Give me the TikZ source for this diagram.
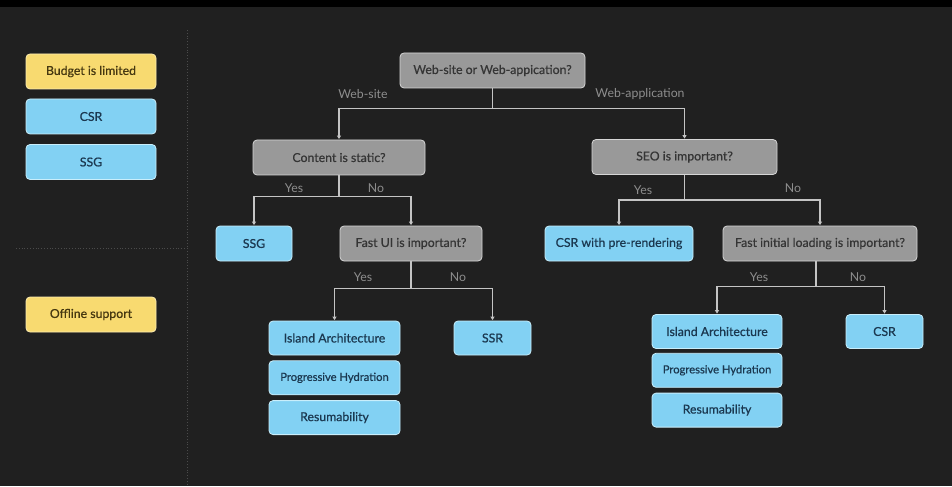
\documentclass[tikz,border=0pt]{standalone}
\usepackage{fontspec}
\setmainfont{Lato}
\newfontfamily\boxfont[FakeBold=0.6]{Lato}
\usetikzlibrary{arrows.meta,positioning}

\definecolor{bgdark}{HTML}{202020}
\definecolor{qfill}{HTML}{999999}
\definecolor{qdraw}{HTML}{D6D6D6}
\definecolor{qtext}{HTML}{353535}
\definecolor{afill}{HTML}{82D1F3}
\definecolor{adraw}{HTML}{C9EEFB}
\definecolor{atext}{HTML}{1B3850}
\definecolor{yfill}{HTML}{F8DA70}
\definecolor{ydraw}{HTML}{FCEBB0}
\definecolor{ytext}{HTML}{463810}
\definecolor{wire}{HTML}{C4C4C4}
\definecolor{lbl}{HTML}{8E8E8E}

\begin{document}
\begin{tikzpicture}[
    x = 1pt, y = -1pt, % one unit per pixel, y downwards
    > = {Triangle[width=4pt,length=3.5pt]}, % arrow head style
    shorten > = 0.5pt, % arrow head just touches the box
    node distance = 5pt, % gap between stacked answers
    line width = 1.3pt
    ]

    \tikzset{
    box/.style = {rounded corners = 4pt, line width = 0.8pt, inner sep = 0pt,
        minimum height = 35pt, font = \boxfont\fontsize{12.3}{14}\selectfont},
    question/.style = {box, fill = qfill, draw = qdraw, text = qtext},
    answer/.style = {box, fill = afill, draw = adraw, text = atext},
    note/.style = {box, fill = yfill, draw = ydraw, text = ytext},
    stacked/.style = {answer, minimum height = 34pt},
    small/.style = {font = \boxfont\fontsize{11.2}{13}\selectfont},
    branch/.style = {text = lbl, font = \fontsize{12.3}{14}\selectfont},
    wire/.style = {draw = wire, ->},
    sep/.style = {draw = gray!45!bgdark, line width = 0.8pt, dotted}
    }

    % background
    \fill[bgdark] (0,0) rectangle (952,486);
    \fill[black] (0,0) rectangle (952,7);
    \draw[sep] (187,30) -- (187,486);
    \draw[sep] (16,248) -- (187,248);

    % left panel
    \node[note, minimum width = 130pt] (budget) at (91,71.5) {Budget is limited};
    \node[answer, minimum width = 130pt] (lcsr) at (91,116.5) {CSR};
    \node[answer, minimum width = 130pt] (lssg) at (91,162) {SSG};
    \node[note, minimum width = 130pt] (offline) at (91,314.5) {Offline support};

    % questions
    \node[question, minimum width = 185pt] (root) at (492.5,70.5) {Web-site or Web-appication?};
    \node[question, minimum width = 172pt] (content) at (339,157.5) {Content is static?};
    \node[question, minimum width = 185pt] (seo) at (684.5,157) {SEO is important?};
    \node[question, minimum width = 142pt] (fastui) at (411,243.5) {Fast UI is important?};
    \node[question, minimum width = 194pt] (fastload) at (820,243.5) {Fast initial loading is important?};

    % answers
    \node[answer, minimum width = 76pt] (ssg) at (254,243.5) {SSG};
    \node[answer, minimum width = 148pt] (csrpre) at (619,243.5) {CSR with pre-rendering};
    \node[stacked, minimum width = 131pt] (island1) at (334.5,338) {Island Architecture};
    \node[stacked, small, minimum width = 131pt] (hydr1) [below=of island1] {Progressive Hydration};
    \node[stacked, minimum width = 131pt] (resum1) [below=of hydr1] {Resumability};
    \node[stacked, minimum width = 77pt] (ssr) at (492.5,338) {SSR};
    \node[stacked, minimum width = 130pt] (island2) at (717,331.5) {Island Architecture};
    \node[stacked, small, minimum width = 130pt] (hydr2) [below=4pt of island2] {Progressive Hydration};
    \node[stacked, minimum width = 130pt] (resum2) [below=of hydr2] {Resumability};
    \node[stacked, minimum width = 77pt] (csr) at (884.5,331.5) {CSR};

    % connectors
    \path[wire] (root.south) -- ++(0,20) -| (content.north);
    \path[wire] (root.south) -- ++(0,20) -| (seo.north);
    \path[wire] (content.south) -- ++(0,21) -| (ssg.north);
    \path[wire] (content.south) -- ++(0,21) -| (fastui.north);
    \path[wire] (seo.south) -- ++(0,25) -| (csrpre.north);
    \path[wire] (seo.south) -- ++(0,25) -| (fastload.north);
    \path[wire] (fastui.south) -- ++(0,27) -| (island1.north);
    \path[wire] (fastui.south) -- ++(0,27) -| (ssr.north);
    \path[wire] ([xshift=-4pt]fastload.south) -- ++(0,25) -| (island2.north);
    \path[wire] ([xshift=-4pt]fastload.south) -- ++(0,25) -| (csr.north);

    % branch labels
    \node[branch] (lsite) at (363,94) {Web-site};
    \node[branch] (lapp) at (640,94) {Web-application};
    \node[branch] (ly1) at (294,188) {Yes};
    \node[branch] (ln1) at (376,188) {No};
    \node[branch] (ly2) at (643,190) {Yes};
    \node[branch] (ln2) at (793,188) {No};
    \node[branch] (ly3) at (363,277) {Yes};
    \node[branch] (ln3) at (458,277) {No};
    \node[branch] (ly4) at (759,277) {Yes};
    \node[branch] (ln4) at (858,277) {No};
\end{tikzpicture}
\end{document}
